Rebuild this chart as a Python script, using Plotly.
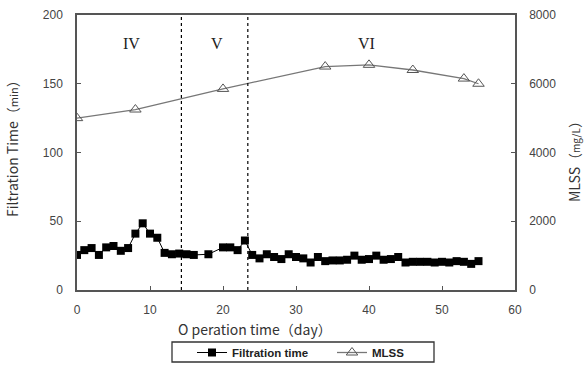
import plotly.graph_objects as go

# Filtration time data
ft_days = [0, 1, 2, 3, 4, 5, 6, 7, 8, 9, 10, 11, 12, 13, 14, 15, 16, 18, 20, 21, 22, 23,
           24, 25, 26, 27, 28, 29, 30, 31, 32, 33, 34, 35, 36, 37, 38, 39, 40, 41, 42, 43,
           44, 45, 46, 47, 48, 49, 50, 51, 52, 53, 54, 55]
ft_values = [25.5, 29, 30.5, 25.5, 31, 32, 28.5, 30.5, 41, 48.5, 41, 38, 27, 26, 26.5, 26, 25.5,
             26, 31, 31, 29, 36, 25.5, 23, 26, 24, 22.5, 26, 24, 23, 20, 24, 21, 21.5, 21.5,
             22, 25, 22, 22.5, 25, 22, 22.5, 24, 20, 20.5, 20.5, 20.5, 20, 20.5, 20, 21,
             20.5, 19, 21]

# MLSS data
mlss_days = [0, 8, 20, 34, 40, 46, 53, 55]
mlss_values = [5000, 5250, 5850, 6500, 6550, 6400, 6150, 6000]

# Phase boundaries and labels
phase_bounds = [14.3, 23.4]
phase_labels = ["IV", "V", "VI"]
phase_label_x = [7.4, 19.2, 39.7]
phase_label_y = 179

x_ticks = [0, 10, 20, 30, 40, 50, 60]
y1_ticks = [0, 50, 100, 150, 200]
y2_ticks = [0, 2000, 4000, 6000, 8000]

AX = "#555555"
TXT = "#444444"

# plot-area pixel geometry
L, R, T, B = 77, 515, 15, 290
PW, PH = R - L, B - T


def px(xp):
    return (xp - L) / PW


def py(yp):
    return (B - yp) / PH


fig = go.Figure()
fig.add_trace(go.Scatter(
    x=ft_days, y=ft_values, mode="lines+markers", name="Filtration time",
    line=dict(color="black", width=1),
    marker=dict(symbol="square", size=8, color="black"),
))
fig.add_trace(go.Scatter(
    x=mlss_days, y=mlss_values, mode="lines+markers", name="MLSS", yaxis="y2",
    line=dict(color="#777777", width=1.3),
    marker=dict(symbol="triangle-up-open", size=10, color="#555555", line=dict(width=1)),
))

for b in phase_bounds:
    fig.add_shape(type="line", x0=b, x1=b, y0=0, y1=1, yref="paper", xref="x",
                  line=dict(color="black", width=1.2, dash="dot"))

# legend frame
fig.add_shape(type="rect", xref="paper", yref="paper", x0=px(172), x1=px(434),
              y0=py(362), y1=py(342), line=dict(color="#333333", width=1.3),
              fillcolor="rgba(0,0,0,0)")

for lab, lx in zip(phase_labels, phase_label_x):
    fig.add_annotation(x=lx, y=phase_label_y, xref="x", yref="y", text=lab, showarrow=False,
                       font=dict(family="Liberation Serif", size=16, color="#222222"))

title_font = dict(family="Noto Sans CJK JP", size=14, color="#333333")
fig.add_annotation(x=px(12), y=py(145), xref="paper", yref="paper", showarrow=False,
                   textangle=-90, xanchor="center", yanchor="middle",
                   text="Filtration Time（<span style='font-size:11px'>min</span>）",
                   font=title_font)
fig.add_annotation(x=px(255), y=py(329), xref="paper", yref="paper", showarrow=False,
                   xanchor="center", yanchor="middle",
                   text="O peration time（day）", font=title_font)
fig.add_annotation(x=px(574), y=py(158), xref="paper", yref="paper", showarrow=False,
                   textangle=-90, xanchor="center", yanchor="middle",
                   text="MLSS（<span style='font-size:10px'>mg/L</span>）", font=title_font)

tickfont = dict(family="Liberation Sans", size=12, color=TXT)
common = dict(ticks="inside", ticklen=4, tickcolor=AX, showline=True, linecolor=AX,
              linewidth=1.5, showgrid=False, zeroline=False, tickfont=tickfont)

fig.update_layout(
    width=585, height=367,
    margin=dict(l=L, r=585 - R, t=T, b=367 - B, autoexpand=False),
    paper_bgcolor="white", plot_bgcolor="white",
    showlegend=True,
    legend=dict(orientation="h", x=px(192), xanchor="left", y=py(338), yanchor="top",
                borderwidth=0, bgcolor="rgba(0,0,0,0)",
                font=dict(family="Liberation Sans", size=11.5, color="#222222", weight="bold"),
                entrywidth=95, itemwidth=30, tracegroupgap=0),
    xaxis=dict(range=[0, 60], tickvals=x_ticks, mirror=True, ticklabelstandoff=8, **common),
    yaxis=dict(range=[0, 200], tickvals=y1_ticks, mirror=True, ticklabelstandoff=10, **common),
    yaxis2=dict(range=[0, 8000], tickvals=y2_ticks, overlaying="y", side="right",
                ticklabelstandoff=10, **common),
)

fig.write_html("out.html", config={"displayModeBar": False},
               post_script="document.body.style.margin='0';document.body.style.overflow='hidden';")
